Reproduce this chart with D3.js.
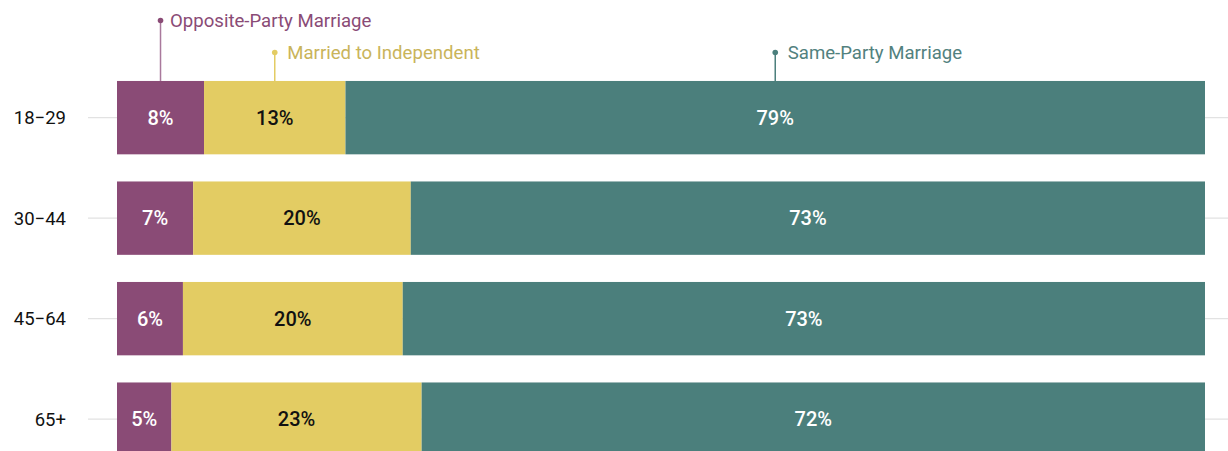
<!DOCTYPE html>
<html>
<head>
<meta charset="utf-8">
<script src="https://cdn.jsdelivr.net/npm/d3@7"></script>
<style>
  html, body { margin: 0; padding: 0; background: #fff; }
  svg { display: block; font-family: Roboto, "Noto Sans", sans-serif; }
</style>
</head>
<body>
<svg id="chart" width="1228" height="451"></svg>
<script>
// Age groups (rows)
const ageGroups = ["18\u221229", "30\u221244", "45\u221264", "65+"];
// Series, in stacking order
const seriesKeys = ["opposite", "independent", "same"];
const seriesNames = ["Opposite-Party Marriage", "Married to Independent", "Same-Party Marriage"];
// Shares (%) per age group
const oppositeParty = [8, 7, 6, 5];
const marriedIndependent = [13, 20, 20, 23];
const sameParty = [79, 73, 73, 72];

const colors = { opposite: "#8a4b76", independent: "#e3cc63", same: "#4b7f7c" };
const textColors = { opposite: "#8a4b76", independent: "#c9b45a", same: "#52817e" };
const lineColors = { opposite: "#a9799c", independent: "#e3cc63", same: "#4b7f7c" };
const labelColors = { opposite: "#ffffff", independent: "#111111", same: "#ffffff" };

const rows = ageGroups.map((g, i) => ({
  group: g,
  opposite: oppositeParty[i],
  independent: marriedIndependent[i],
  same: sameParty[i]
}));

const W = 1228, H = 451;
const left = 117, right = 1205;

const svg = d3.select("#chart");

const x = d3.scaleLinear().domain([0, 1]).range([left, right]);
const y = d3.scaleBand().domain(ageGroups).range([67.4, 469.4]).paddingInner(0.27).paddingOuter(0.135);

const stack = d3.stack().keys(seriesKeys).offset(d3.stackOffsetExpand);
const stacked = stack(rows);

// Light gridlines through each row
svg.append("g").selectAll("line")
  .data(ageGroups)
  .join("line")
  .attr("x1", 88).attr("x2", W)
  .attr("y1", d => y(d) + y.bandwidth() / 2)
  .attr("y2", d => y(d) + y.bandwidth() / 2)
  .attr("stroke", "#e2e2e2")
  .attr("stroke-width", 1.2);

// Row labels
const yAxis = d3.axisLeft(y).tickSize(0).tickPadding(0);
const gy = svg.append("g").attr("transform", "translate(66,0)").call(yAxis);
gy.select(".domain").remove();
gy.selectAll("text")
  .attr("font-family", "Roboto, sans-serif")
  .attr("font-size", 18.5)
  .attr("fill", "#111")
  .attr("dy", "0.35em");

// Stacked bars
const layers = svg.append("g").selectAll("g")
  .data(stacked)
  .join("g")
  .attr("fill", d => colors[d.key]);

layers.selectAll("rect")
  .data(d => d)
  .join("rect")
  .attr("x", d => x(d[0]))
  .attr("width", d => x(d[1]) - x(d[0]))
  .attr("y", d => y(d.data.group))
  .attr("height", y.bandwidth());

// Value labels
svg.append("g").selectAll("g")
  .data(stacked)
  .join("g")
  .each(function(layer) {
    d3.select(this).selectAll("text")
      .data(layer)
      .join("text")
      .attr("x", d => (x(d[0]) + x(d[1])) / 2)
      .attr("y", d => y(d.data.group) + y.bandwidth() / 2)
      .attr("dy", "0.36em")
      .attr("text-anchor", "middle")
      .attr("font-size", 20)
      .attr("font-weight", 500)
      .attr("fill", labelColors[layer.key])
      .text(d => d.data[layer.key] + "%");
  });

// Series annotations above the first row
const legendY = { opposite: 20.5, independent: 52.5, same: 52.5 };
const legendDx = { opposite: 9.5, independent: 12.5, same: 12.5 };
const firstTop = y(ageGroups[0]);
const ann = svg.append("g").selectAll("g")
  .data(stacked)
  .join("g");

ann.append("line")
  .attr("x1", d => (x(d[0][0]) + x(d[0][1])) / 2)
  .attr("x2", d => (x(d[0][0]) + x(d[0][1])) / 2)
  .attr("y1", d => legendY[d.key])
  .attr("y2", firstTop)
  .attr("stroke", d => lineColors[d.key])
  .attr("stroke-width", 1.5);

ann.append("circle")
  .attr("cx", d => (x(d[0][0]) + x(d[0][1])) / 2)
  .attr("cy", d => legendY[d.key])
  .attr("r", 2.8)
  .attr("fill", d => colors[d.key]);

ann.append("text")
  .attr("x", d => (x(d[0][0]) + x(d[0][1])) / 2 + legendDx[d.key])
  .attr("y", d => legendY[d.key])
  .attr("dy", "0.35em")
  .attr("font-size", 18.6)
  .attr("fill", d => textColors[d.key])
  .text(d => seriesNames[seriesKeys.indexOf(d.key)]);
</script>
</body>
</html>
